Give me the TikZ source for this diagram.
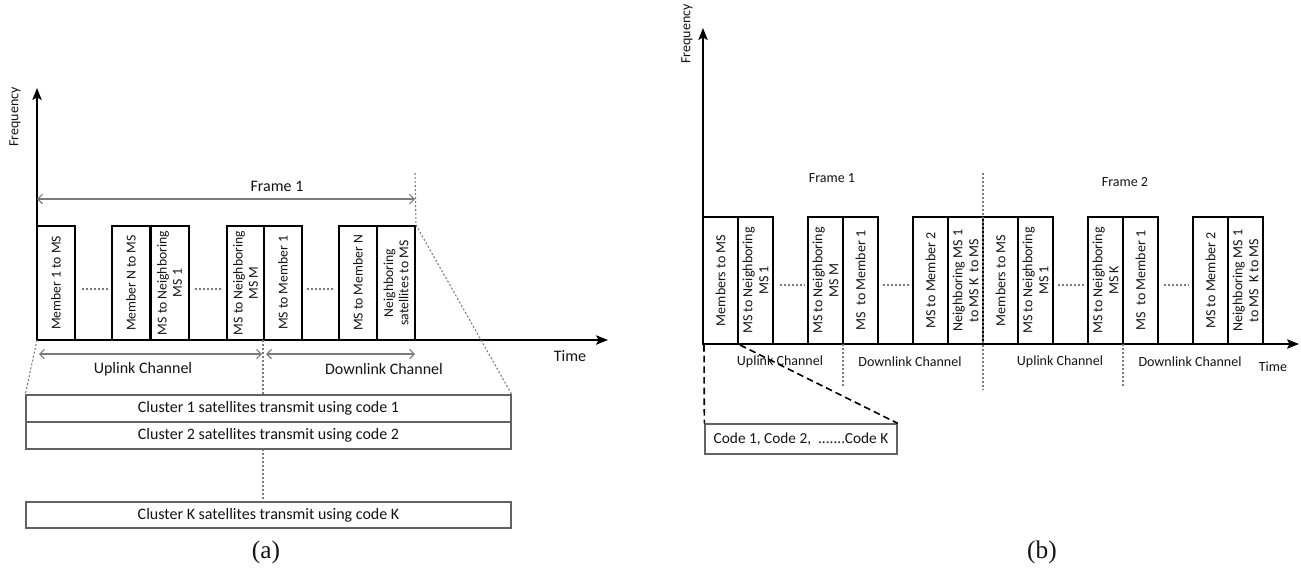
\documentclass[tikz,border=0pt]{standalone}
\usepackage{fontspec}
\setmainfont{Carlito}
\newfontfamily\capfont{Liberation Serif}
\usetikzlibrary{arrows.meta}
\definecolor{ink}{HTML}{141414}
\definecolor{lgray}{HTML}{7A7A7A}
\begin{document}
\begin{tikzpicture}[x=0.75pt,y=-0.75pt,
  slot/.style={draw=black,line width=1.5pt,fill=white,rotate=90,inner sep=0pt,align=center,text=ink},
  slota/.style={slot,minimum width=85.5pt,minimum height=28.5pt,font=\fontsize{10.25}{11.5}\selectfont},
  slotb/.style={slot,minimum width=95.25pt,minimum height=26.25pt,font=\fontsize{10.5}{12}\selectfont},
  codebox/.style={draw=lgray!80!black,line width=1pt,fill=white,inner sep=0pt,text=ink},
  axisline/.style={line width=1.5pt,-{Stealth[length=9pt,width=7pt,inset=2pt]}},
  thinarr/.style={draw=lgray,line width=0.8pt,{Straight Barb[length=3.5pt,width=7pt]}-{Straight Barb[length=3.5pt,width=7pt]}},
  dotln/.style={draw=lgray,line width=0.8pt,dash pattern=on 1.5pt off 1.5pt},
  dashln/.style={draw=black,line width=1.2pt,dash pattern=on 5pt off 3pt},
  lbl/.style={text=ink,inner sep=0pt},
]
\useasboundingbox (0,0) rectangle (1301,569);
\fill[white] (0,0) rectangle (1301,569);

% ================= (a) =================
\node[slota] (a1) at (56,283) {Member 1 to MS};
\node[slota] (a2) at (131,283) {Member N to MS};
\node[slota] (a3) at (169.5,283) {MS to Neighboring\\MS 1};
\node[slota] (a4) at (245.5,283) {MS to Neighboring\\MS M};
\node[slota] (a5) at (283,283) {MS to Member 1};
\node[slota] (a6) at (358,283) {MS to Member N};
\node[slota] (a7) at (396,283) {Neighboring\\satellites to MS};

\coordinate (oa) at (37,340);
\coordinate (ta) at (608,340);
\coordinate (fa) at (37,88);
\draw[axisline] (oa) -- (ta);
\draw[axisline] (oa) -- (fa);

\node[lbl,rotate=90,font=\fontsize{10.5}{12}\selectfont] (freqa) at (15,117) {Frequency};
\node[lbl,font=\fontsize{12}{14}\selectfont] (timea) at (570,356) {Time};

% frame arrow
\coordinate (fl) at (37,199);
\coordinate (fr) at (415,199);
\draw[thinarr] (fl) -- (fr);
\node[lbl,font=\fontsize{12}{14}\selectfont] (frame1a) at (277,186) {Frame 1};
\coordinate (ftop) at (415,173);
\draw[dotln] (ftop) -- (a7.south east);

% gaps
\coordinate (g1l) at (82,289); \coordinate (g1r) at (108,289);
\coordinate (g2l) at (195,289); \coordinate (g2r) at (222,289);
\coordinate (g3l) at (307,289); \coordinate (g3r) at (335,289);
\draw[dotln] (g1l) -- (g1r);
\draw[dotln] (g2l) -- (g2r);
\draw[dotln] (g3l) -- (g3r);

% uplink / downlink
\coordinate (ul) at (39,354); \coordinate (ur) at (262,354);
\coordinate (dl) at (266,354); \coordinate (dr) at (415,354);
\draw[thinarr] (ul) -- (ur);
\draw[thinarr] (dl) -- (dr);
\node[lbl,font=\fontsize{12}{14}\selectfont] (upa) at (143,369) {Uplink Channel};
\node[lbl,font=\fontsize{12}{14}\selectfont] (dna) at (384,369) {Downlink Channel};

% cluster boxes
\node[codebox,minimum width=363.75pt,minimum height=20.25pt,font=\fontsize{12}{14}\selectfont] (c1) at (268.5,408.5) {Cluster 1 satellites transmit using code 1};
\node[codebox,minimum width=363.75pt,minimum height=20.25pt,font=\fontsize{12}{14}\selectfont] (c2) at (268.5,435.5) {Cluster 2 satellites transmit using code 2};
\node[codebox,minimum width=363.75pt,minimum height=19.5pt,font=\fontsize{12}{14}\selectfont] (ck) at (268.5,515) {Cluster K satellites transmit using code K};

\coordinate (divtop) at (263,340);
\coordinate (divc1) at (263,395);
\coordinate (divc2) at (263,449);
\coordinate (divck) at (263,502);
\draw[dotln] (divtop) -- (divc1);
\draw[dotln] (divc2) -- (divck);
\draw[dotln] (oa) -- (c1.north west);
\draw[dotln] (a7.south east) -- (c1.north east);

\node[lbl,font=\capfont\fontsize{19}{21}\selectfont] (capa) at (266,552) {(a)};

% ================= (b) =================
\node[slotb] (b1) at (720.5,280.5) {Members to MS};
\node[slotb] (b2) at (755.5,280.5) {MS to Neighboring\\MS 1};
\node[slotb] (b3) at (825.5,280.5) {MS to Neighboring\\MS M};
\node[slotb] (b4) at (860.5,280.5) {MS\ \ to Member 1};
\node[slotb] (b5) at (930.5,280.5) {MS to Member 2};
\node[slotb] (b6) at (965.5,280.5) {Neighboring MS 1\\to MS K\ \ to MS};
\node[slotb] (b7) at (1000.5,280.5) {Members to MS};
\node[slotb] (b8) at (1035.5,280.5) {MS to Neighboring\\MS 1};
\node[slotb] (b9) at (1105.5,280.5) {MS to Neighboring\\MS K};
\node[slotb] (b10) at (1140.5,280.5) {MS\ \ to Member 1};
\node[slotb] (b11) at (1210.5,280.5) {MS to Member 2};
\node[slotb] (b12) at (1245.5,280.5) {Neighboring MS 1\\to MS\ \ K to MS};

\coordinate (ob) at (703,344);
\coordinate (tb) at (1299,344);
\coordinate (fb) at (703,28);
\draw[axisline] (ob) -- (tb);
\draw[axisline] (ob) -- (fb);

\node[lbl,rotate=90,font=\fontsize{10.5}{12}\selectfont] (freqb) at (687,34) {Frequency};
\node[lbl,font=\fontsize{10.5}{12}\selectfont] (timeb) at (1273,367) {Time};
\node[lbl,font=\fontsize{10.5}{12}\selectfont] (frame1b) at (832,178) {Frame 1};
\node[lbl,font=\fontsize{10.5}{12}\selectfont] (frame2b) at (1125,182) {Frame 2};

% gaps
\coordinate (h1l) at (780,285); \coordinate (h1r) at (805,285);
\coordinate (h2l) at (883,285); \coordinate (h2r) at (910,285);
\coordinate (h3l) at (1058,285); \coordinate (h3r) at (1085,285);
\coordinate (h4l) at (1164,285); \coordinate (h4r) at (1189,285);
\draw[dotln] (h1l) -- (h1r);
\draw[dotln] (h2l) -- (h2r);
\draw[dotln] (h3l) -- (h3r);
\draw[dotln] (h4l) -- (h4r);

% dividers
\coordinate (d1t) at (843,344); \coordinate (d1b) at (843,387);
\coordinate (d2t) at (983,173); \coordinate (d2b) at (983,390);
\coordinate (d3t) at (1123,344); \coordinate (d3b) at (1123,387);
\draw[dotln] (d1t) -- (d1b);
\draw[dotln] (d2t) -- (d2b);
\draw[dotln] (d3t) -- (d3b);

\node[lbl,font=\fontsize{10.5}{12}\selectfont] (up1b) at (780,362) {Uplink Channel};
\node[lbl,font=\fontsize{10.5}{12}\selectfont] (dn1b) at (910,362) {Downlink Channel};
\node[lbl,font=\fontsize{10.5}{12}\selectfont] (up2b) at (1060,362) {Uplink Channel};
\node[lbl,font=\fontsize{10.5}{12}\selectfont] (dn2b) at (1190,362) {Downlink Channel};

% code box and zoom lines
\node[codebox,minimum width=144pt,minimum height=22.5pt,font=\fontsize{11.5}{13}\selectfont] (code) at (801,439) {Code 1, Code 2,\ \ .......Code K};
\coordinate (zl) at (704,345);
\coordinate (zr) at (740,345);
\draw[dashln] (zl) -- (code.north west);
\draw[dashln] (zr) -- (code.north east);

\node[lbl,font=\capfont\fontsize{19}{21}\selectfont] (capb) at (1042,552) {(b)};
\end{tikzpicture}
\end{document}
